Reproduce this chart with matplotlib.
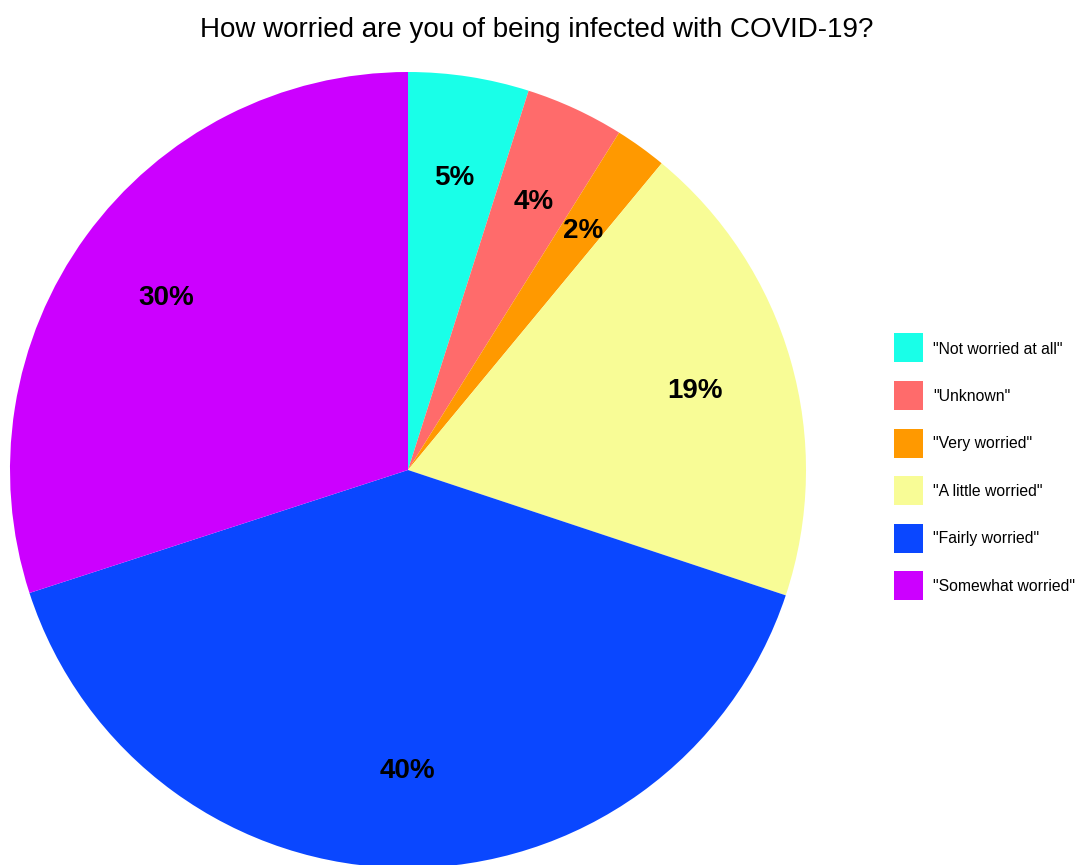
import matplotlib.pyplot as plt
from matplotlib.patches import Rectangle
from matplotlib.transforms import ScaledTranslation

# datos (orden horario desde las 12)
categorias = ['"Not worried at all"', '"Unknown"', '"Very worried"',
              '"A little worried"', '"Fairly worried"', '"Somewhat worried"']
porcentajes = [4.9, 4.0, 2.1, 19.1, 39.9, 30.0]
colores = ['#19FFE8', '#FF6B6B', '#FF9900', '#F8FC96', '#0A47FF', '#CC00FF']

plt.rcParams['font.family'] = ['Liberation Sans', 'DejaVu Sans']

W, H = 1078, 865
fig = plt.figure(figsize=(W / 100, H / 100), dpi=100)
ax = fig.add_axes([10 / W, -3 / H, 796 / W, 796 / H])

cunas, textos, autotextos = ax.pie(
    porcentajes, colors=colores, startangle=90, counterclock=False,
    autopct='%.0f%%', pctdistance=0.75, radius=1.0,
    wedgeprops=dict(linewidth=0),
    textprops=dict(fontsize=20, fontweight='bold', color='black'))
ax.set_xlim(-1, 1)
ax.set_ylim(-1, 1)
# bajar un poco las etiquetas de porcentaje
desplaz = ScaledTranslation(0, -3 / 100, fig.dpi_scale_trans)
for t in autotextos:
    t.set_transform(t.get_transform() + desplaz)

fig.text(537 / W, 1 - 30 / H, 'How worried are you of being infected with COVID-19?',
         ha='center', va='center', fontsize=20)

# leyenda hecha a mano: cuadrados de 29 px, separacion ~47.5 px
for i, (cat, col) in enumerate(zip(categorias, colores)):
    yc = 348 + i * 47.5
    fig.patches.append(Rectangle((894 / W, 1 - (yc + 14.5) / H), 29 / W, 29 / H,
                                 transform=fig.transFigure, facecolor=col,
                                 edgecolor='none'))
    fig.text(933 / W, 1 - (yc + 1) / H, cat, ha='left', va='center', fontsize=11.3)

plt.savefig('out.png', dpi=100)
